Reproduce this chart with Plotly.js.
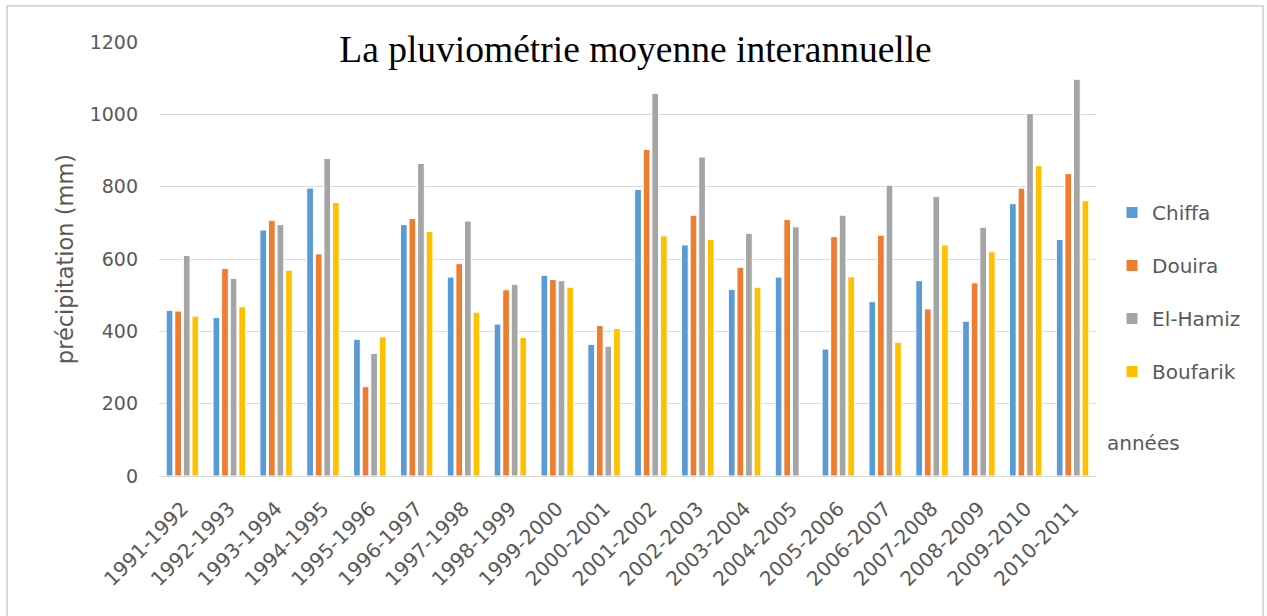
<!DOCTYPE html>
<html>
<head>
<meta charset="utf-8">
<script src="https://cdn.plot.ly/plotly-3.0.1.min.js"></script>
<style>
  html, body { margin: 0; padding: 0; overflow: hidden; background: #fff; }
  #chart { width: 1267px; height: 616px; position: absolute; left: 0; top: 0; }
  #frame { position: absolute; left: 6px; top: 5px; width: 1254px; height: 640px;
           border: 2px solid #d9d9d9; pointer-events: none; }
</style>
</head>
<body>
<div id="chart"></div>
<div id="frame"></div>
<script>
const years = ["1991-1992","1992-1993","1993-1994","1994-1995","1995-1996","1996-1997","1997-1998",
  "1998-1999","1999-2000","2000-2001","2001-2002","2002-2003","2003-2004","2004-2005","2005-2006",
  "2006-2007","2007-2008","2008-2009","2009-2010","2010-2011"];
const chiffa   = [458, 438, 680, 796, 378, 695, 550, 420, 555, 364, 792, 639, 516, 550, 351, 482, 540, 428, 753, 654];
const douira   = [456, 574, 707, 614, 247, 712, 587, 515, 543, 416, 903, 721, 577, 709, 662, 666, 462, 534, 796, 836];
const elHamiz  = [610, 546, 695, 878, 339, 864, 705, 530, 540, 359, 1058, 882, 671, 689, 721, 804, 773, 688, 1002, 1097];
const boufarik = [442, 468, 569, 756, 385, 676, 453, 383, 522, 408, 664, 654, 522, null, 551, 370, 639, 620, 858, 761];
const yTicks = [0, 200, 400, 600, 800, 1000, 1200];

const seriesNames = ["Chiffa", "Douira", "El-Hamiz", "Boufarik"];
const seriesValues = [chiffa, douira, elHamiz, boufarik];
const seriesColors = ["#5B9BD5", "#ED7D31", "#A5A5A5", "#FFC000"];

const traces = seriesNames.map((name, i) => ({
  type: "bar",
  name: name,
  x: years,
  y: seriesValues[i],
  legendgroup: name,
  marker: { color: seriesColors[i], line: { color: "#ffffff", width: 1 } },
  hoverinfo: "x+y+name"
}));

const W = 1267, H = 616;
const L = 159, R = 1096, T = 42, B = 476;

const layout = {
  width: W, height: H,
  margin: { l: L, r: W - R, t: T, b: H - B, pad: 0 },
  paper_bgcolor: "#ffffff",
  plot_bgcolor: "#ffffff",
  font: { family: "DejaVu Sans, sans-serif", color: "#595959", size: 18 },
  title: {
    text: "La pluviométrie moyenne interannuelle",
    font: { family: "Liberation Serif, Times New Roman, serif", size: 37.5, color: "#000000" },
    x: 0.5016, xref: "container", xanchor: "center",
    y: (H - 49) / H, yref: "container", yanchor: "middle"
  },
  barmode: "group",
  bargap: 0.267,
  bargroupgap: 0.22,
  xaxis: {
    type: "category",
    tickangle: -45,
    tickfont: { size: 20, color: "#595959" },
    showgrid: false,
    showline: true, linecolor: "#d9d9d9", linewidth: 1,
    ticks: "",
    ticklabelstandoff: 12,
    automargin: false
  },
  yaxis: {
    range: [0, 1200],
    tickvals: yTicks,
    ticktext: yTicks.map(String),
    tickfont: { size: 19, color: "#595959" },
    showgrid: true, gridcolor: "#d9d9d9", gridwidth: 1,
    zeroline: false,
    showline: false,
    ticks: "",
    ticklabelstandoff: 20,
    automargin: false,
    title: { text: "précipitation (mm)", font: { size: 22.5, color: "#595959" }, standoff: 9 }
  },
  legend: {
    x: (1112 - L) / (R - L), xanchor: "left",
    y: (B - 193) / (B - T), yanchor: "top",
    font: { size: 20, color: "#595959" },
    tracegroupgap: 24,
    bgcolor: "rgba(0,0,0,0)",
    borderwidth: 0
  },
  shapes: [{
    type: "rect", layer: "above",
    xref: "paper", yref: "paper",
    x0: (330 - L) / (R - L), x1: (942 - L) / (R - L),
    y0: (B - 44) / (B - T), y1: (B - 40) / (B - T),
    fillcolor: "#ffffff", line: { width: 0 }
  }],
  annotations: [{
    text: "années",
    xref: "paper", yref: "paper",
    x: (1105 - L) / (R - L), xanchor: "left",
    y: (B - 443) / (B - T), yanchor: "middle",
    showarrow: false,
    font: { size: 20, color: "#595959" }
  }]
};

Plotly.newPlot("chart", traces, layout, { displayModeBar: false, staticPlot: true });
</script>
</body>
</html>
